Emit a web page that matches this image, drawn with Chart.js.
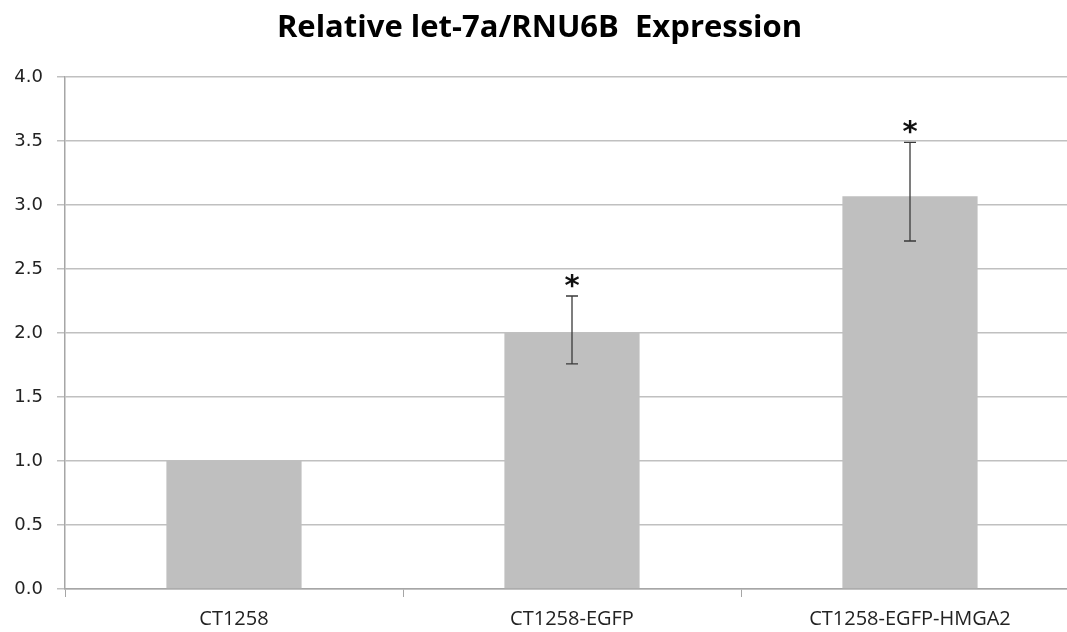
<!DOCTYPE html>
<html>
<head>
<meta charset="utf-8">
<script src="https://cdn.jsdelivr.net/npm/chart.js@4/dist/chart.umd.min.js"></script>
<style>
  html, body { margin: 0; padding: 0; background: #fff; }
  #wrap { width: 1067px; height: 632px; position: relative; overflow: hidden; }
  #c { position: absolute; left: 0; top: 0; }
</style>
</head>
<body>
<div id="wrap"><canvas id="c" width="1080" height="632"></canvas></div>
<script>
const categories = ['CT1258', 'CT1258-EGFP', 'CT1258-EGFP-HMGA2'];
const values = [1.0, 2.0, 3.07];
const errLow = [null, 1.76, 2.72];
const errHigh = [null, 2.29, 3.49];
const marks = ['', '*', '*'];
const yTicks = [0, 0.5, 1.0, 1.5, 2.0, 2.5, 3.0, 3.5, 4.0];

// Draws error whiskers and significance marks above each bar
const errorPlugin = {
  id: 'errorBars',
  afterDatasetsDraw(chart) {
    const ctx = chart.ctx;
    const x = chart.scales.x, y = chart.scales.y;
    ctx.save();
    categories.forEach((c, i) => {
      const cx = x.getPixelForValue(i);
      if (errLow[i] !== null) {
        const yt = y.getPixelForValue(errHigh[i]);
        const yb = y.getPixelForValue(errLow[i]);
        ctx.strokeStyle = '#3a3a3a';
        ctx.lineWidth = 1.3;
        ctx.beginPath();
        ctx.moveTo(cx, yt); ctx.lineTo(cx, yb);
        ctx.moveTo(cx - 6, yt); ctx.lineTo(cx + 6, yt);
        ctx.moveTo(cx - 6, yb); ctx.lineTo(cx + 6, yb);
        ctx.stroke();
      }
      if (marks[i]) {
        const top = errHigh[i] !== null ? errHigh[i] : values[i];
        ctx.fillStyle = '#111';
        ctx.font = 'bold 29px "DejaVu Sans"';
        ctx.textAlign = 'center';
        ctx.textBaseline = 'alphabetic';
        const m = ctx.measureText(marks[i]);
        // keep an 8px gap between the glyph's lowest ink and the whisker cap
        const target = y.getPixelForValue(top) - 8;
        ctx.fillText(marks[i], cx, target - m.actualBoundingBoxDescent);
      }
    });
    ctx.restore();
  }
};

new Chart(document.getElementById('c'), {
  type: 'bar',
  data: {
    labels: categories,
    datasets: [{
      data: values,
      backgroundColor: '#bfbfbf',
      borderWidth: 0,
      categoryPercentage: 1.0,
      barPercentage: 0.4
    }]
  },
  options: {
    responsive: false,
    animation: false,
    events: [],
    layout: { padding: { top: 0, right: 1, bottom: 1, left: 0 } },
    plugins: {
      legend: { display: false },
      tooltip: { enabled: false },
      title: {
        display: true,
        text: 'Relative let-7a/RNU6B  Expression',
        color: '#000',
        font: { family: '"Open Sans"', size: 31, weight: 'bold' },
        padding: { top: 10, bottom: 30 }
      }
    },
    scales: {
      x: {
        afterFit(axis) { axis.height = 42; },
        grid: {
          display: true,
          drawOnChartArea: false,
          drawTicks: true,
          tickLength: 8,
          color: '#a6a6a6',
          lineWidth: 1
        },
        border: { color: '#a6a6a6', width: 1.5 },
        ticks: {
          color: '#222',
          font: { family: '"Open Sans"', size: 20 },
          padding: 10
        }
      },
      y: {
        min: 0,
        max: 4,
        afterBuildTicks(axis) { axis.ticks = yTicks.map(v => ({ value: v })); },
        afterFit(axis) { axis.width = 65; },
        grid: {
          color: '#c0c0c0',
          lineWidth: 1.5,
          drawTicks: true,
          tickLength: 8
        },
        border: { color: '#a6a6a6', width: 1.5 },
        ticks: {
          color: '#222',
          font: { family: '"DejaVu Sans"', size: 18 },
          padding: 14,
          callback: v => Number(v).toFixed(1)
        }
      }
    }
  },
  plugins: [errorPlugin]
});
</script>
</body>
</html>
